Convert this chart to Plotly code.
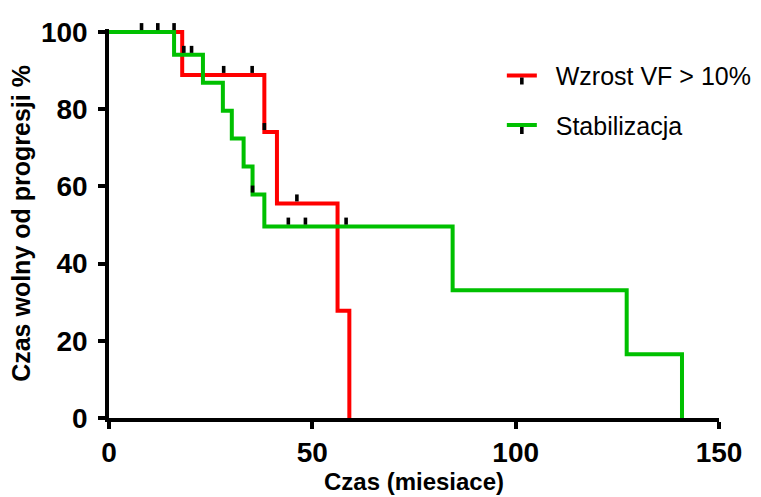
import plotly.graph_objects as go

# ---- data ----
red_name = "Wzrost VF > 10%"
red_t = [0, 18.0, 38.2, 41.3, 56.2, 59.1]
red_s = [100, 88.9, 74.1, 55.6, 27.8, 0]
red_cens_t = [28.2, 35.2, 38.2, 46.2]
red_cens_s = [88.9, 88.9, 74.1, 55.6]

green_name = "Stabilizacja"
green_t = [0, 16.0, 23.1, 28.0, 30.2, 33.1, 35.3, 38.2, 84.5, 127.3, 140.9]
green_s = [100, 94.1, 86.9, 79.6, 72.4, 65.2, 57.9, 49.6, 33.1, 16.5, 0]
green_cens_t = [8.0, 12.0, 16.0, 18.4, 20.3, 35.3, 44.1, 48.3, 58.3]
green_cens_s = [100, 100, 100, 94.1, 94.1, 57.9, 49.6, 49.6, 49.6]

x_ticks = [0, 50, 100, 150]
y_ticks = [0, 20, 40, 60, 80, 100]

RED = "#FF0000"
GREEN = "#00C000"
FONT = "Liberation Sans, Arial, sans-serif"

fig = go.Figure()

for t, s, col in [(red_t, red_s, RED), (green_t, green_s, GREEN)]:
    fig.add_trace(go.Scatter(x=t, y=s, mode="lines", line=dict(color=col, width=4, shape="hv"),
                             showlegend=False, hoverinfo="skip"))

cmarker = dict(symbol="line-ns", size=5, angle=180, standoff=5.5,
               color="black", line=dict(color="black", width=3.6))
for ct, cs in [(red_cens_t, red_cens_s), (green_cens_t, green_cens_s)]:
    fig.add_trace(go.Scatter(x=ct, y=cs, mode="markers", marker=cmarker,
                             showlegend=False, hoverinfo="skip", cliponaxis=False))

# legend-only entries
for col, name, grp in [(RED, red_name, "r"), (GREEN, green_name, "g")]:
    fig.add_trace(go.Scatter(x=[None], y=[None], mode="lines+markers", name="\u00a0\u00a0" + name,
                             legendgroup=grp,
                             line=dict(color=col, width=4), marker=cmarker))

axis_common = dict(showline=True, linecolor="black", linewidth=3.5, ticks="outside",
                   ticklen=7, tickwidth=3.5, tickcolor="black", showgrid=False, zeroline=False,
                   automargin=False,
                   tickfont=dict(family=FONT, size=28, color="black", weight="bold"))

fig.update_layout(
    width=761, height=497,
    margin=dict(l=109, r=42, t=29, b=79, autoexpand=False),
    plot_bgcolor="white", paper_bgcolor="white",
    xaxis=dict(range=[0, 150], tickvals=x_ticks, ticklabelstandoff=0,
               title=dict(text="Czas (miesiace)", standoff=6,
                          font=dict(family=FONT, size=24, color="black", weight="bold")),
               **axis_common),
    yaxis=dict(range=[0, 100.8], tickvals=y_ticks, ticklabelstandoff=5,
               title=dict(text="Czas wolny od progresji %", standoff=4,
                          font=dict(family=FONT, size=25, color="black", weight="bold")),
               **axis_common),
    legend=dict(x=0.644, y=0.939, xanchor="left", yanchor="top",
                font=dict(family=FONT, size=25, color="black"),
                traceorder="grouped", tracegroupgap=14,
                bgcolor="rgba(0,0,0,0)"),
    showlegend=True,
)

fig.write_html("out.html")
